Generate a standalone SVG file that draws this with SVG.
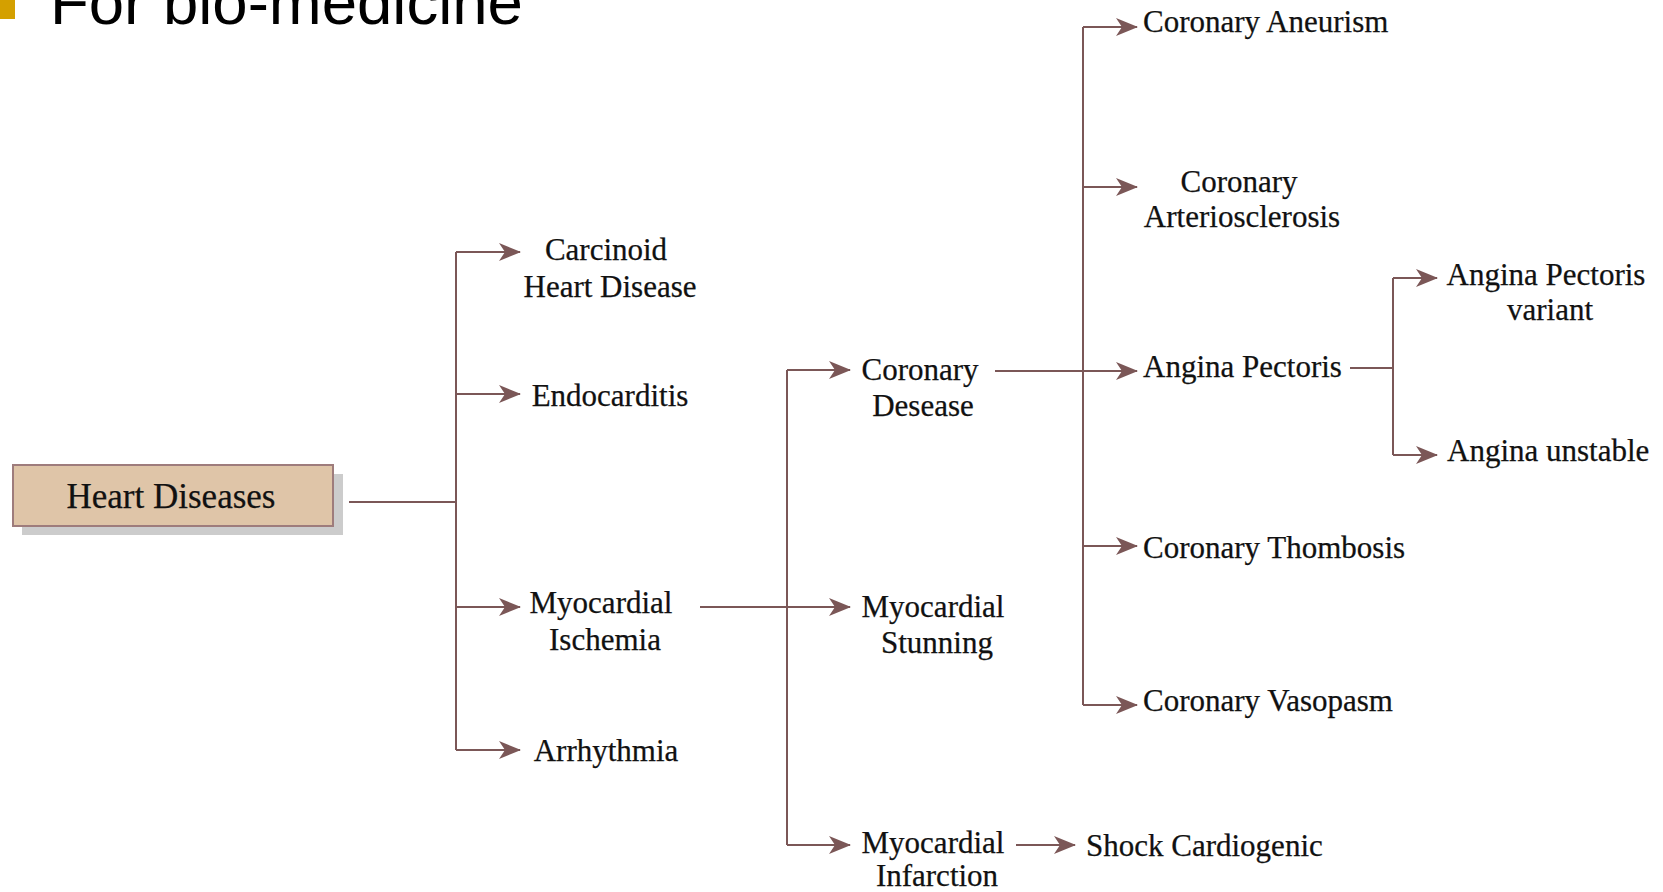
<svg xmlns="http://www.w3.org/2000/svg" width="1663" height="892" viewBox="0 0 1663 892">
<style>
.c{fill:none;stroke:#7b5757;stroke-width:2}
.a{marker-end:url(#ah)}
.t{font-family:"Liberation Serif","Times New Roman",serif;font-size:31px;fill:#111;stroke:#111;stroke-width:0.25}
.m{text-anchor:middle}
.title{font-family:"Liberation Sans",Arial,sans-serif;font-size:63.5px;fill:#000}
</style>
<defs>
<marker id="ah" markerUnits="userSpaceOnUse" markerWidth="22" markerHeight="18" refX="21" refY="9" orient="auto">
<path d="M0,0 L22,9 L0,18 L6,9 Z" fill="#7b5757"/>
</marker>
</defs>
<rect width="1663" height="892" fill="#fff"/>
<g id="title">
<rect x="0" y="0" width="15" height="19" fill="#d4a000"/>
<text class="title" x="50" y="24">For bio-medicine</text>
</g>
<g id="connectors">
<path class="c" d="M349,502 H456"/>
<path class="c" d="M456,252 V750"/>
<path class="c a" d="M456,252 H520"/>
<path class="c a" d="M456,394 H520"/>
<path class="c a" d="M456,607 H520"/>
<path class="c a" d="M456,750 H520"/>
<path class="c a" d="M700,607 H850"/>
<path class="c" d="M787,370 V845"/>
<path class="c a" d="M787,370 H850"/>
<path class="c a" d="M787,845 H850"/>
<path class="c a" d="M1016,845 H1075"/>
<path class="c a" d="M995,371 H1137"/>
<path class="c" d="M1083,27 V705"/>
<path class="c a" d="M1083,27 H1137"/>
<path class="c a" d="M1083,187 H1137"/>
<path class="c a" d="M1083,546 H1137"/>
<path class="c a" d="M1083,705 H1137"/>
<path class="c" d="M1350,368 H1393"/>
<path class="c" d="M1393,278 V455"/>
<path class="c a" d="M1393,278 H1437"/>
<path class="c a" d="M1393,455 H1437"/>
</g>
<g id="heart-diseases">
<rect x="22" y="474" width="321" height="61" fill="#cccccc"/>
<rect x="13" y="465" width="320" height="61" fill="#dfc5a8" stroke="#9e7c7c" stroke-width="2"/>
<text class="t m" x="171" y="508" style="font-size:35px">Heart Diseases</text>
</g>
<g id="carcinoid"><text class="t m" x="606" y="260">Carcinoid</text><text class="t m" x="610" y="297">Heart Disease</text></g>
<g id="endocarditis"><text class="t m" x="610" y="406">Endocarditis</text></g>
<g id="myocardial-ischemia"><text class="t m" x="601" y="613">Myocardial</text><text class="t m" x="605" y="650">Ischemia</text></g>
<g id="arrhythmia"><text class="t m" x="606" y="761">Arrhythmia</text></g>
<g id="coronary-desease"><text class="t m" x="920" y="380">Coronary</text><text class="t m" x="923" y="416">Desease</text></g>
<g id="myocardial-stunning"><text class="t m" x="933" y="617">Myocardial</text><text class="t m" x="937" y="653">Stunning</text></g>
<g id="myocardial-infarction"><text class="t m" x="933" y="853">Myocardial</text><text class="t m" x="937" y="886">Infarction</text></g>
<g id="shock-cardiogenic"><text class="t" x="1086" y="856">Shock Cardiogenic</text></g>
<g id="coronary-aneurism"><text class="t" x="1143" y="32">Coronary Aneurism</text></g>
<g id="coronary-arteriosclerosis"><text class="t m" x="1239" y="192">Coronary</text><text class="t m" x="1242" y="227">Arteriosclerosis</text></g>
<g id="angina-pectoris"><text class="t" x="1143" y="377">Angina Pectoris</text></g>
<g id="angina-pectoris-variant"><text class="t m" x="1546" y="285">Angina Pectoris</text><text class="t m" x="1550" y="320">variant</text></g>
<g id="angina-unstable"><text class="t" x="1447" y="461">Angina unstable</text></g>
<g id="coronary-thombosis"><text class="t" x="1143" y="558">Coronary Thombosis</text></g>
<g id="coronary-vasopasm"><text class="t" x="1143" y="711">Coronary Vasopasm</text></g>
</svg>
